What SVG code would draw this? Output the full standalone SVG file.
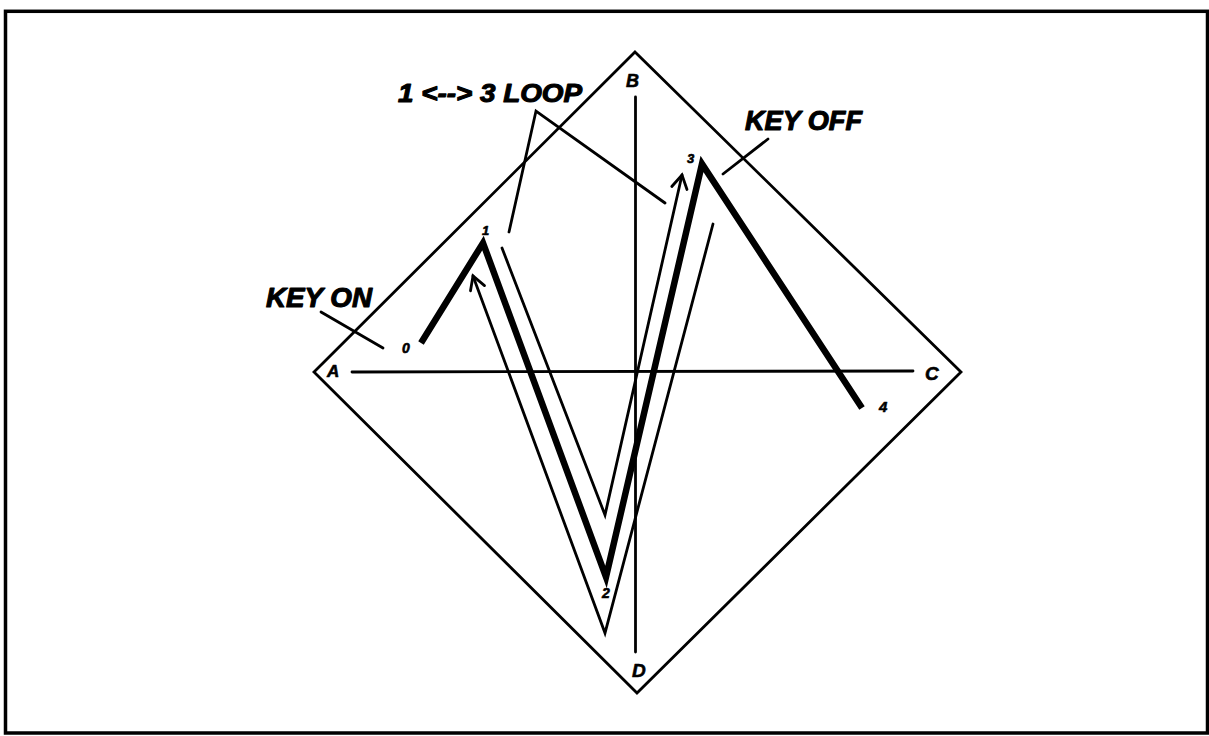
<svg xmlns="http://www.w3.org/2000/svg" width="1209" height="736" viewBox="0 0 1209 736">
<style>
.ln{fill:none;stroke:#000;stroke-width:2.8;stroke-linecap:round;stroke-linejoin:miter}
.thk{fill:none;stroke:#000;stroke-width:6.5;stroke-linejoin:miter;stroke-linecap:butt}
.t{font-family:"Liberation Sans",Arial,sans-serif;font-weight:bold;font-style:italic;fill:#000;stroke:#000;stroke-width:1.1;stroke-linejoin:round}
.ts{stroke-width:0.6}
</style>
<rect x="5.5" y="11.3" width="1202" height="721.7" fill="#fff" stroke="#000" stroke-width="3.5"/>
<g id="diamond">
<polygon class="ln" points="635,52 961,372 637,693 314,372"/>
<line class="ln" x1="352" y1="372" x2="913" y2="371"/>
<line class="ln" x1="635.5" y1="97" x2="635.5" y2="652"/>
</g>
<g id="corner-labels">
<text class="t ts" x="327" y="377" font-size="17">A</text>
<text class="t ts" x="626" y="87" font-size="18">B</text>
<text class="t ts" x="925" y="380" font-size="19">C</text>
<text class="t ts" x="632" y="677" font-size="19">D</text>
</g>
<g id="envelope">
<polyline class="thk" points="421,343 483,243 606,577 702,164 862,408"/>
</g>
<g id="connectors">
<polyline class="ln" points="473,276 605,633 713,224"/>
<polyline class="ln" points="470.5,290.8 473,276 484.5,285.6"/>
<polyline class="ln" points="502,248 605,515 682,175"/>
<polyline class="ln" points="671.8,186.5 682,175 687,189.5"/>
<line class="ln" x1="321" y1="312" x2="383" y2="348"/>
<polyline class="ln" points="509,232 536,111 665,203"/>
<line class="ln" x1="768" y1="139" x2="723" y2="174"/>
</g>
<g id="point-labels">
<text class="t ts" x="402" y="353" font-size="14">0</text>
<text class="t ts" x="482" y="235" font-size="13">1</text>
<text class="t ts" x="602" y="598" font-size="14">2</text>
<text class="t ts" x="687" y="163" font-size="13">3</text>
<text class="t ts" x="879" y="412" font-size="15">4</text>
</g>
<g id="annotations">
<text class="t" x="398" y="102" font-size="26" textLength="184" lengthAdjust="spacingAndGlyphs">1 &lt;--&gt; 3 LOOP</text>
<text class="t" x="266" y="307" font-size="27" textLength="106" lengthAdjust="spacingAndGlyphs">KEY ON</text>
<text class="t" x="745" y="130" font-size="27" textLength="117" lengthAdjust="spacingAndGlyphs">KEY OFF</text>
</g>
</svg>
